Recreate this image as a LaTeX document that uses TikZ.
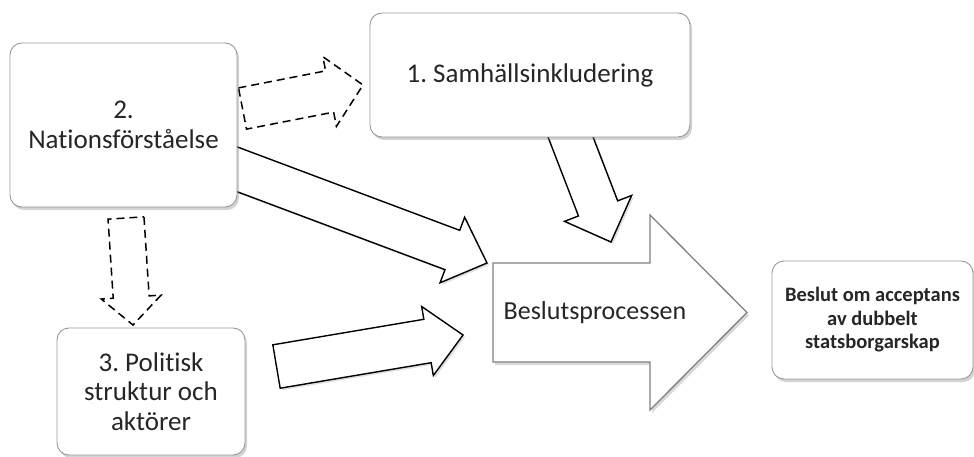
\documentclass[tikz,border=0pt]{standalone}
\usepackage{fontspec}
\setmainfont[Ligatures=NoCommon]{Carlito}
\frenchspacing
\usetikzlibrary{calc}
\usetikzlibrary{shadows}
\tikzset{
	% rounded text boxes and three kinds of block arrows
	text box/.style={rectangle,draw=gray!80,line width=0.9,rounded corners=12,fill=white,align=center,text=black!85,
		drop shadow={opacity=0.35,shadow xshift=2pt,shadow yshift=-3pt},font=\fontsize{27}{29.5}\selectfont},
	solid arrow/.style={draw,line width=1.4,fill=white,drop shadow={opacity=0.25,shadow xshift=2pt,shadow yshift=-2pt}},
	dashed arrow/.style={draw,line width=1.5,fill=white,dash pattern=on 8pt off 5pt},
	big arrow/.style={draw=gray,line width=1.3,fill=white,drop shadow={opacity=0.3,shadow xshift=2pt,shadow yshift=-3pt}}
}
\begin{document}
\begin{tikzpicture}[x=1pt,y=-1pt]
			% macro for block arrows: [style]{tail}{tip}{half shaft}{half head}{head length}
			\newcommand{\blockarrow}[6][solid arrow]{
				\coordinate (#3-h) at ($(#3)!#6!(#2)$);
				\path[#1]($(#2)!#4!90:(#3)$)--($(#3-h)!#4!90:(#3)$)--($(#3-h)!#5!90:(#3)$)--(#3)
					--($(#3-h)!#5!-90:(#3)$)--($(#3-h)!#4!-90:(#3)$)--($(#2)!#4!-90:(#3)$)--cycle;
			}
			\useasboundingbox(0,0)rectangle(974,457);
			
			% ends of the arrows
			\coordinate(nat-r)at(242.5,108.5);
			\coordinate(sam-l)at(363,85);
			\coordinate(nat-b)at(126,218);
			\coordinate(pol-t)at(133,325);
			\coordinate(nat-e)at(215,161);
			\coordinate(proc-a)at(487,263);
			\coordinate(pol-e)at(276.5,366.5);
			\coordinate(proc-b)at(463,335);
			\coordinate(sam-b)at(564,120);
			\coordinate(proc-c)at(611,242);
			\coordinate(proc-tail)at(493,312.5);
			\coordinate(proc-tip)at(747,312.5);
			
			\blockarrow[dashed arrow]{nat-r}{sam-l}{21pt}{35.5pt}{34pt}
			\blockarrow[dashed arrow]{nat-b}{pol-t}{18pt}{30pt}{28pt}
			\blockarrow{nat-e}{proc-a}{21pt}{35pt}{37pt}
			\blockarrow{pol-e}{proc-b}{22pt}{35pt}{36pt}
			\blockarrow{sam-b}{proc-c}{21pt}{36pt}{36pt}
			\blockarrow[big arrow]{proc-tail}{proc-tip}{49.5pt}{97.5pt}{97pt}
			
			\node(sam)[text box,minimum width=320,minimum height=124]at(530,75){1. Samhällsinkludering};
			\node(nat)[text box,minimum width=227,minimum height=164]at(123.5,125){2.\\Nationsförståelse};
			\node(pol)[text box,minimum width=188,minimum height=127]at(151,391.5){3. Politisk\\struktur och\\aktörer};
			\node(bes)[text box,minimum width=201,minimum height=118,font=\bfseries\fontsize{20.5}{23.5}\selectfont]at(872.5,320){Beslut om acceptans\\av dubbelt\\statsborgarskap};
			\node(proc)[font=\fontsize{26}{29}\selectfont,text=black!85]at(595,313){Beslutsprocessen};
\end{tikzpicture}
\end{document}
